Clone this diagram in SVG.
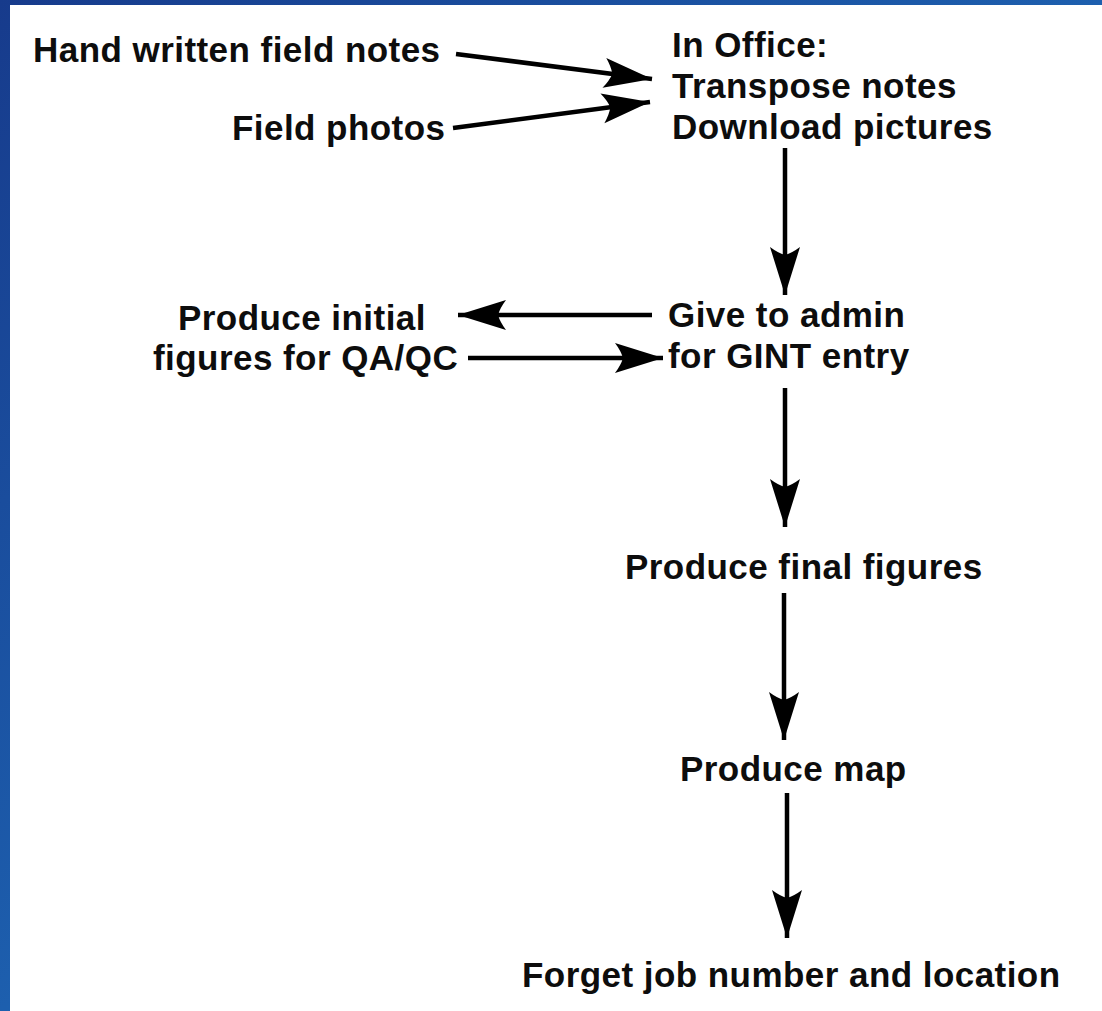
<svg xmlns="http://www.w3.org/2000/svg" width="1102" height="1011" viewBox="0 0 1102 1011">
<style>
text{font-family:"Liberation Sans",Arial,sans-serif;font-weight:bold;font-size:35px;letter-spacing:0.45px;fill:#0d0d0d}
.c{stroke:#000;stroke-width:4.5;fill:none}
</style>
<defs>
<linearGradient id="bg" x1="0" y1="0" x2="1" y2="1">
<stop offset="0" stop-color="#173b8c"/>
<stop offset="0.5" stop-color="#1d5fae"/>
<stop offset="1" stop-color="#2a7fc0"/>
</linearGradient>
<marker id="ah" markerUnits="userSpaceOnUse" viewBox="-52 -17 54 34" refX="0" refY="0" markerWidth="54" markerHeight="34" orient="auto">
<path d="M0,0 L-48,-15 Q-42,-7 -40,0 Q-42,7 -48,15 Z" fill="#000"/>
</marker>
</defs>
<rect x="0" y="0" width="1102" height="1011" fill="url(#bg)"/>
<rect x="10" y="5" width="1092" height="1006" fill="#fff"/>
<g id="n-hand"><text x="33" y="62">Hand written field notes</text></g>
<g id="n-photos"><text x="232" y="140">Field photos</text></g>
<g id="n-office"><text x="672" y="57">In Office:</text><text x="672" y="98">Transpose notes</text><text x="672" y="139">Download pictures</text></g>
<g id="n-admin"><text x="668" y="327">Give to admin</text><text x="668" y="368">for GINT entry</text></g>
<g id="n-initial"><text x="178" y="330">Produce initial</text><text x="153" y="370">figures for QA/QC</text></g>
<g id="n-final"><text x="625" y="579">Produce final figures</text></g>
<g id="n-map"><text x="680" y="781">Produce map</text></g>
<g id="n-forget"><text x="522" y="987">Forget job number and location</text></g>
<g id="connectors">
<line class="c" x1="456" y1="54" x2="652" y2="79" marker-end="url(#ah)"/>
<line class="c" x1="453" y1="128" x2="650" y2="102" marker-end="url(#ah)"/>
<line class="c" x1="785" y1="148" x2="785" y2="295" marker-end="url(#ah)"/>
<line class="c" x1="652" y1="315" x2="458" y2="315" marker-end="url(#ah)"/>
<line class="c" x1="468" y1="358" x2="663" y2="358" marker-end="url(#ah)"/>
<line class="c" x1="785" y1="388" x2="785" y2="527" marker-end="url(#ah)"/>
<line class="c" x1="784" y1="593" x2="784" y2="740" marker-end="url(#ah)"/>
<line class="c" x1="787" y1="793" x2="787" y2="938" marker-end="url(#ah)"/>
</g>
</svg>
